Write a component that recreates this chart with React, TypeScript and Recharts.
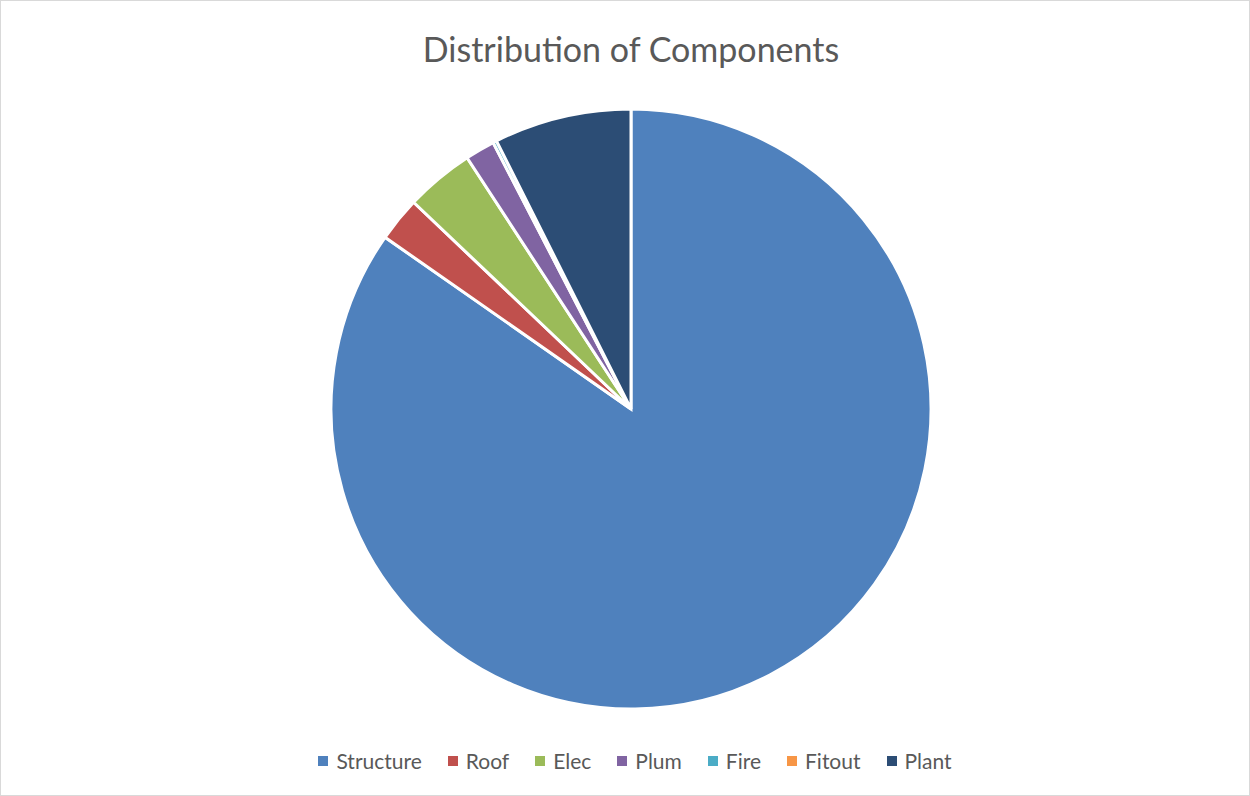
import { PieChart, Pie, Cell, Legend } from "recharts";

const COMPONENTS = ["Structure", "Roof", "Elec", "Plum", "Fire", "Fitout", "Plant"];
const SHARES = [84.7, 2.4, 3.7, 1.6, 0.2, 0, 7.4];
const COLORS = ["#4f81bd", "#c0504d", "#9bbb59", "#8064a2", "#4bacc6", "#f79646", "#2c4d75"];

const FONT = "Lato, 'Open Sans', sans-serif";

const data = COMPONENTS.map((name, i) => ({ name, value: SHARES[i] }));

function LegendRow() {
  return (
    <div
      style={{
        display: "flex",
        justifyContent: "center",
        alignItems: "center",
        gap: 26,
        fontFamily: FONT,
        fontSize: 21,
        color: "#595959",
        paddingLeft: 20,
      }}
    >
      {COMPONENTS.map((name, i) => (
        <span key={name} style={{ display: "flex", alignItems: "center", gap: 8 }}>
          <span
            style={{ width: 10, height: 10, background: COLORS[i], display: "inline-block" }}
          />
          {name}
        </span>
      ))}
    </div>
  );
}

export default function App() {
  return (
    <div
      style={{
        position: "fixed",
        top: 0,
        left: 0,
        width: 1250,
        height: 796,
        background: "#fff",
        boxSizing: "border-box",
        border: "1px solid #d9d9d9",
      }}
    >
      <div
        style={{
          position: "absolute",
          top: 27,
          left: 0,
          width: 1260,
          textAlign: "center",
          fontFamily: FONT,
          fontSize: 34,
          color: "#595959",
        }}
      >
        Distribution of Components
      </div>
      <PieChart width={1248} height={794} style={{ position: "absolute", top: 0, left: 0 }}>
        <Pie
          data={data}
          dataKey="value"
          nameKey="name"
          cx={625}
          cy={403}
          outerRadius={300}
          startAngle={90}
          endAngle={-270}
          stroke="#fff"
          strokeWidth={3}
          isAnimationActive={false}
        >
          {data.map((d, i) => (
            <Cell key={d.name} fill={COLORS[i]} />
          ))}
        </Pie>
        <Legend
          verticalAlign="bottom"
          content={() => <LegendRow />}
          wrapperStyle={{ bottom: 22 }}
        />
      </PieChart>
    </div>
  );
}
